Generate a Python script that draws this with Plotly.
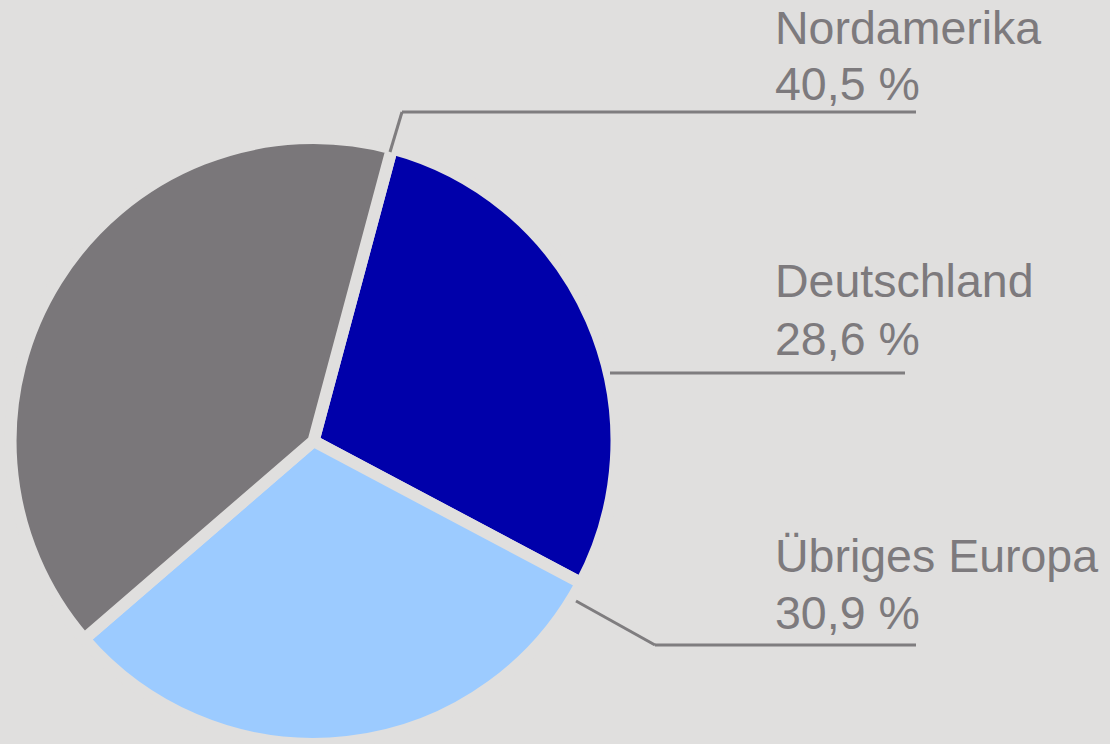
import plotly.graph_objects as go

# ─────────────────────────────────────────────
# Data
# ─────────────────────────────────────────────
REGIONS = ["Deutschland", "Übriges Europa", "Nordamerika"]
SHARES = [28.6, 30.9, 40.5]
SHARE_LABELS = ["28,6 %", "30,9 %", "40,5 %"]
COLORS = ["#0000AA", "#9CCBFF", "#7A777A"]

BG = "#E0DFDE"
TEXT = "#7D7A7D"
LINE = "#7F7D7F"
W, H = 1110, 744


def px_x(x):
    return x / W


def px_y(y):
    return 1 - y / H


fig = go.Figure(go.Pie(
    labels=REGIONS, values=SHARES, sort=False,
    direction="clockwise", rotation=15,
    marker=dict(colors=COLORS, line=dict(color=BG, width=12)),
    textinfo="none", hoverinfo="label+percent",
    domain=dict(x=[0.0095, 0.5554], y=[0.0, 0.8145]),
    showlegend=False,
))

# leader lines (pixel points -> paper coords)
leaders = [
    [(390, 152), (402, 112), (916, 112)],
    [(610, 373), (905, 373)],
    [(576, 601), (655, 645), (916, 645)],
]
shapes = []
for pts in leaders:
    for (x0, y0), (x1, y1) in zip(pts[:-1], pts[1:]):
        shapes.append(dict(
            type="line", xref="paper", yref="paper",
            x0=px_x(x0), y0=px_y(y0), x1=px_x(x1), y1=px_y(y1),
            line=dict(color=LINE, width=3),
        ))

# label lines: (region index, top pixel of name line, top pixel of share line)
label_tops = {2: (0, 56), 0: (253, 311), 1: (528, 585)}
annotations = []
for i, (top_name, top_share) in label_tops.items():
    for txt, top in ((REGIONS[i], top_name), (SHARE_LABELS[i], top_share)):
        annotations.append(dict(
            x=px_x(773), y=px_y(top), xref="paper", yref="paper",
            xanchor="left", yanchor="top", align="left", showarrow=False,
            text=txt,
            font=dict(family="Liberation Sans, Arial, sans-serif", size=46.5, color=TEXT),
        ))

fig.update_layout(
    width=W, height=H,
    margin=dict(l=0, r=0, t=0, b=0),
    paper_bgcolor=BG, plot_bgcolor=BG,
    shapes=shapes, annotations=annotations,
)
fig.write_html("out.html", config={"displayModeBar": False},
               post_script="document.body.style.margin='0';")
